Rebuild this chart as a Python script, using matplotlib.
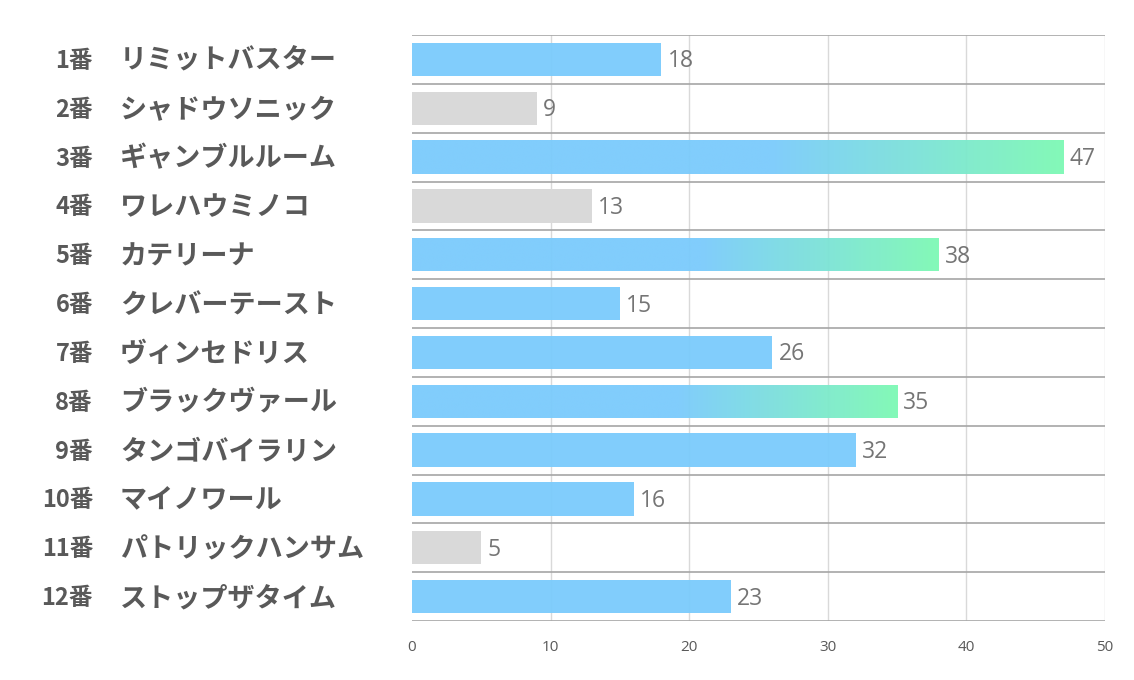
import matplotlib
matplotlib.use("Agg")
import matplotlib.pyplot as plt
import matplotlib.transforms as mtransforms
from matplotlib.colors import LinearSegmentedColormap
import numpy as np

numbers = ["1番", "2番", "3番", "4番", "5番", "6番", "7番", "8番", "9番", "10番", "11番", "12番"]
names = ["リミットバスター", "シャドウソニック", "ギャンブルルーム", "ワレハウミノコ", "カテリーナ",
         "クレバーテースト", "ヴィンセドリス", "ブラックヴァール", "タンゴバイラリン", "マイノワール",
         "パトリックハンサム", "ストップザタイム"]
values = [18, 9, 47, 13, 38, 15, 26, 35, 32, 16, 5, 23]
kind = ["blue", "gray", "grad", "gray", "grad", "blue", "blue", "grad", "blue", "blue", "gray", "blue"]
xticks = [0, 10, 20, 30, 40, 50]

BLUE = "#7ACBFC"
GREEN = "#7DF9B4"
GRAY = "#D9D9D9"

fig = plt.figure(figsize=(11.34, 6.80), dpi=100)
ax = fig.add_axes([412/1134, 1 - 621/680, (1105-412)/1134, (621-35)/680])

n = len(values)
ax.set_xlim(0, 50)
ax.set_ylim(n - 0.5, -0.5)
h = 0.68

# grid
for t in xticks[1:]:
    ax.axvline(t, color="#D9D9D9", lw=1.0, zorder=0)
for b in np.arange(-0.5, n, 1.0):
    ax.axhline(b, color="#A6A6A6", lw=1.2, zorder=3)

cmap = LinearSegmentedColormap.from_list("bg", [(0, BLUE), (0.55, BLUE), (1.0, GREEN)])
grad = np.linspace(0, 1, 256).reshape(1, -1)

for i, (v, k) in enumerate(zip(values, kind)):
    if k == "gray":
        ax.barh(i, v, height=h, color=GRAY, zorder=2)
    elif k == "blue":
        ax.barh(i, v, height=h, color=BLUE, alpha=0.95, zorder=2)
    else:
        bars = ax.barh(i, v, height=h, color="none", zorder=2)
        im = ax.imshow(grad, cmap=cmap, extent=(0, v, i + h/2, i - h/2), aspect="auto",
                       zorder=2, alpha=0.95, interpolation="bilinear")
        im.set_clip_path(bars[0])
    ax.text(v + 0.45, i + 0.04, str(v), va="center", ha="left", fontsize=16.5, color="#757575",
            family=["Open Sans", "DejaVu Sans"], zorder=4)

ax.set_xlim(0, 50)
ax.set_ylim(n - 0.5, -0.5)

for s in ax.spines.values():
    s.set_visible(False)
ax.set_yticks([])
ax.set_xticks(xticks)
ax.tick_params(axis="x", length=0, pad=14, labelsize=11, labelcolor="#595959")
for lab in ax.get_xticklabels():
    lab.set_family(["Open Sans", "DejaVu Sans"])

trans = mtransforms.blended_transform_factory(fig.transFigure, ax.transData)
for i in range(n):
    t1 = ax.text(93/1134, i + 0.03, numbers[i], transform=trans, ha="right", va="center",
                 fontsize=17, fontweight="bold", color="#595959",
                 family=["Noto Sans CJK JP", "DejaVu Sans"])
    t1.set_clip_on(False)
    t = ax.text(120/1134, i + 0.03, names[i], transform=trans, ha="left", va="center",
                fontsize=19.5, fontweight="bold", color="#595959",
                family=["Noto Sans CJK JP", "DejaVu Sans"])
    t.set_clip_on(False)

fig.savefig("out.png", dpi=100)
